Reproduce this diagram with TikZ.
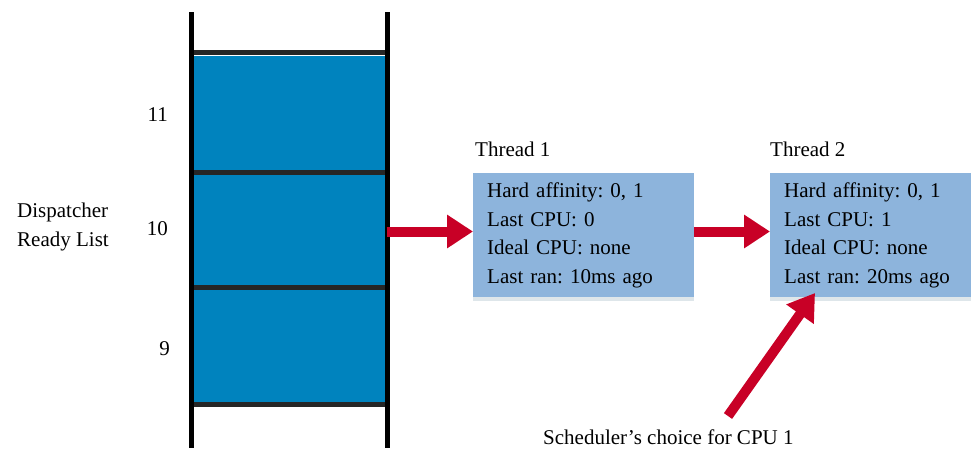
\documentclass[tikz,border=0pt]{standalone}
\usepackage{fontspec}
\setmainfont{Liberation Serif}
\usetikzlibrary{arrows.meta}
\frenchspacing
\definecolor{slotblue}{RGB}{0,131,190}
\definecolor{threadblue}{RGB}{141,180,220}
\definecolor{arrowred}{RGB}{200,0,38}
\definecolor{rimgrey}{RGB}{222,230,234}
\tikzset{
  lbl/.style={font=\fontsize{21}{28.5}\selectfont, inner sep=0pt},
  slot/.style={fill=slotblue, draw=none, minimum width=194pt, inner sep=0pt},
  rail/.style={line width=5.5pt},
  rung/.style={line width=4.5pt, color=black!85},
  threadbox/.style={fill=threadblue, draw=none, anchor=north west,
    minimum height=124pt, inner xsep=14pt, inner ysep=0pt, align=left,
    font=\fontsize{21}{28.5}\selectfont},
  fatarrow/.style={draw=arrowred, line width=10pt,
    -{Triangle[length=26pt,width=32pt]}},
}
\begin{document}
\begin{tikzpicture}[x=1pt,y=-1pt]
  \useasboundingbox (0,0) rectangle (971,448);

  % ready list slots (priorities 11, 10, 9)
  \node[slot, minimum height=114pt] (p11) at (289.5,112.5) {};
  \node[slot, minimum height=111pt] (p10) at (289.5,229.5) {};
  \node[slot, minimum height=114pt] (p9)  at (289.5,345.5) {};

  % rungs between slots
  \draw[rung] (191.5,52.5) -- (387.5,52.5);
  \draw[rung] (191.5,172.5) -- (387.5,172.5);
  \draw[rung] (191.5,287.5) -- (387.5,287.5);
  \draw[rung] (191.5,404.5) -- (387.5,404.5);

  % side rails
  \draw[rail] (191.5,12) -- (191.5,448);
  \draw[rail] (387.5,12) -- (387.5,448);

  % priority numbers and list caption
  \node[lbl, anchor=base east] (n11) at (168,121) {11};
  \node[lbl, anchor=base east] (n10) at (168,235) {10};
  \node[lbl, anchor=base east] (n9)  at (170,355) {9};
  \node[lbl, anchor=base west] (cap1) at (17,217) {Dispatcher};
  \node[lbl, anchor=base west] (cap2) at (17,246) {Ready List};

  % threads
  \node[lbl, anchor=base west] (t1lbl) at (475,156) {Thread 1};
  \node[lbl, anchor=base west] (t2lbl) at (770,156) {Thread 2};

  \fill[rimgrey] (473,296) rectangle (694,301);
  \fill[rimgrey] (770,296) rectangle (971,301);

  \node[threadbox, minimum width=221pt, text width=193pt] (t1) at (473,173)
    {Hard affinity: 0, 1\\Last CPU: 0\\Ideal CPU: none\\Last ran: 10ms ago};
  \node[threadbox, minimum width=201pt, text width=173pt] (t2) at (770,173)
    {Hard affinity: 0, 1\\Last CPU: 1\\Ideal CPU: none\\Last ran: 20ms ago};

  % scheduler caption
  \node[lbl, anchor=base west] (sched) at (543,444) {Scheduler's choice for CPU 1};
  \coordinate (schedtail) at (728,416);
  \coordinate (t2hit) at (815,293);

  % arrows
  \draw[fatarrow] (p10.east) ++(0,2) coordinate (p10out) -- (t1.west |- p10out);
  \draw[fatarrow] (t1.east |- p10out) -- (t2.west |- p10out);
  \draw[fatarrow] (schedtail) -- (t2hit);
\end{tikzpicture}
\end{document}
